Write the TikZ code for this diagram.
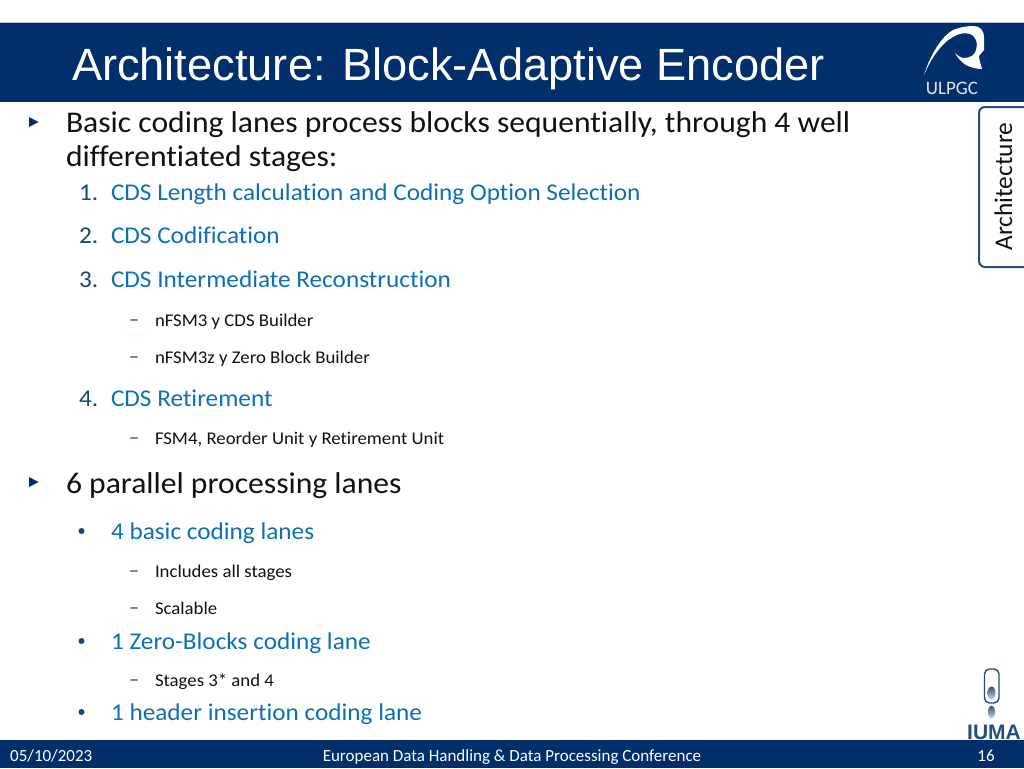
\documentclass[tikz,border=0pt]{standalone}
\usepackage{fontspec}
\setmainfont{Carlito}[Ligatures={NoCommon},FakeStretch=1.05]
\newfontfamily\plainfont{Carlito}[Ligatures={NoCommon}]
\newfontfamily\titlefont{Liberation Sans}
\definecolor{navy}{HTML}{002F6C}
\definecolor{lblue}{HTML}{0F6FB5}
\definecolor{numc}{HTML}{16457F}
\definecolor{txt}{HTML}{111111}
\tikzset{
 lab/.style={anchor=base west,inner sep=0pt,outer sep=0pt},
 lone/.style={lab,font=\fontsize{30.1}{30}\selectfont,text=txt},
 ltwo/.style={lab,font=\fontsize{24.05}{24}\selectfont,text=lblue},
 lthree/.style={lab,font=\fontsize{17.9}{19}\selectfont,text=txt},
 num/.style={lab,font=\fontsize{24.05}{24}\selectfont,text=numc},
 dashm/.style={lab,font=\fontsize{19}{19}\selectfont,text=numc},
 foot/.style={inner sep=0pt,anchor=base,font=\plainfont\fontsize{17}{17}\selectfont,text=white},
}
\newcommand{\tri}[2]{\fill[navy] (#1,#2-5) -- (#1+9.5,#2) -- (#1,#2+5) -- cycle;}
\begin{document}
\begin{tikzpicture}[x=1pt,y=-1pt]
\useasboundingbox (0,0) rectangle (1024,768);
\fill[white] (0,0) rectangle (1024,768);
\fill[navy!30!white] (0,22) rectangle (1024,23);
\fill[navy] (0,23) rectangle (1024,102);
\fill[navy] (0,740) rectangle (1024,768);
\node[lab,text=white,font=\titlefont\fontsize{45.2}{46}\selectfont] (title) at (72,81) {Architecture: Block-Adaptive Encoder};
% ULPGC logo
\fill[white] (924,75) .. controls (930,55) and (942,36) .. (953,30) .. controls (960,27) and (968,26) .. (973,26) .. controls (980,26) and (984,30) .. (984,38) .. controls (984,44) and (984,48) .. (984,50) .. controls (982,53) and (980,54) .. (979,56) .. controls (979,60) and (981,65) .. (982,69) .. controls (975,69) and (970,67) .. (966,65) .. controls (961,62) and (957,57) .. (955,53) .. controls (958,56) and (961,58) .. (964,58) .. controls (970,58) and (975,55) .. (976,50) .. controls (978,44) and (977,37) .. (970,34) .. controls (964,32) and (958,34) .. (953,37) .. controls (943,42) and (932,56) .. cycle;
\node[inner sep=0pt,anchor=base,text=white!88!navy,font=\plainfont\fontsize{19}{19}\selectfont] (ulpgc) at (952,94) {ULPGC};
% tab
\draw[line width=2pt,draw=navy!85!white,fill=white,rounded corners=6pt] (1030,107) -- (979,107) -- (979,267) -- (1030,267);
\node[rotate=90,anchor=base,inner sep=0pt,text=txt,font=\plainfont\fontsize{25.4}{26}\selectfont] (tab) at (1012,186.5) {Architecture};
% bullets
\tri{29}{122}
\node[lone] (a1) at (66,132) {Basic coding lanes process blocks sequentially, through 4 well};
\node[lone] (a2) at (66,166) {differentiated stages:};
\node[num] (n1) at (79,200) {1.};
\node[ltwo] (b1) at (111,200) {CDS Length calculation and Coding Option Selection};
\node[num] (n2) at (79,243) {2.};
\node[ltwo] (b2) at (111,243) {CDS Codification};
\node[num] (n3) at (79,287) {3.};
\node[ltwo] (b3) at (111,287) {CDS Intermediate Reconstruction};
\node[dashm] (d1) at (129,326) {−};
\node[lthree] (c1) at (155,326) {nFSM3 y CDS Builder};
\node[dashm] (d2) at (129,363) {−};
\node[lthree] (c2) at (155,363) {nFSM3z y Zero Block Builder};
\node[num] (n4) at (79,406) {4.};
\node[ltwo] (b4) at (111,406) {CDS Retirement};
\node[dashm] (d3) at (129,444) {−};
\node[lthree] (c3) at (155,444) {FSM4, Reorder Unit y Retirement Unit};
\tri{29}{482}
\node[lone] (a3) at (66,493) {6 parallel processing lanes};
\fill[numc] (81.5,531) circle (3);
\node[ltwo] (e1) at (111,539) {4 basic coding lanes};
\node[dashm] (d4) at (129,577) {−};
\node[lthree] (f1) at (155,577) {Includes all stages};
\node[dashm] (d5) at (129,614) {−};
\node[lthree] (f2) at (155,614) {Scalable};
\fill[numc] (81.5,641) circle (3);
\node[ltwo] (e2) at (111,649) {1 Zero-Blocks coding lane};
\node[dashm] (d6) at (129,686) {−};
\node[lthree] (f3) at (155,686) {Stages 3* and 4};
\fill[numc] (81.5,712) circle (3);
\node[ltwo] (e3) at (111,720) {1 header insertion coding lane};
% IUMA logo
\draw[line width=1.4pt,draw=navy!65!gray,rounded corners=5pt] (984.5,669) rectangle (999,703);
\shade[top color=navy!60!gray,bottom color=navy!20!white] (991.5,693) ellipse (4 and 6.5);
\shade[top color=navy!60!gray,bottom color=navy!20!white] (991.5,712) ellipse (3.5 and 6.5);
\node[inner sep=0pt,anchor=base,text=navy!85!white,font=\titlefont\bfseries\fontsize{21}{21}\selectfont] (iuma) at (994,739) {IUMA};
% footer
\node[foot,anchor=base west] (date) at (10,761) {05/10/2023};
\node[foot] (conf) at (512,761) {European Data Handling \& Data Processing Conference};
\node[foot] (page) at (986,761) {16};
\end{tikzpicture}
\end{document}
